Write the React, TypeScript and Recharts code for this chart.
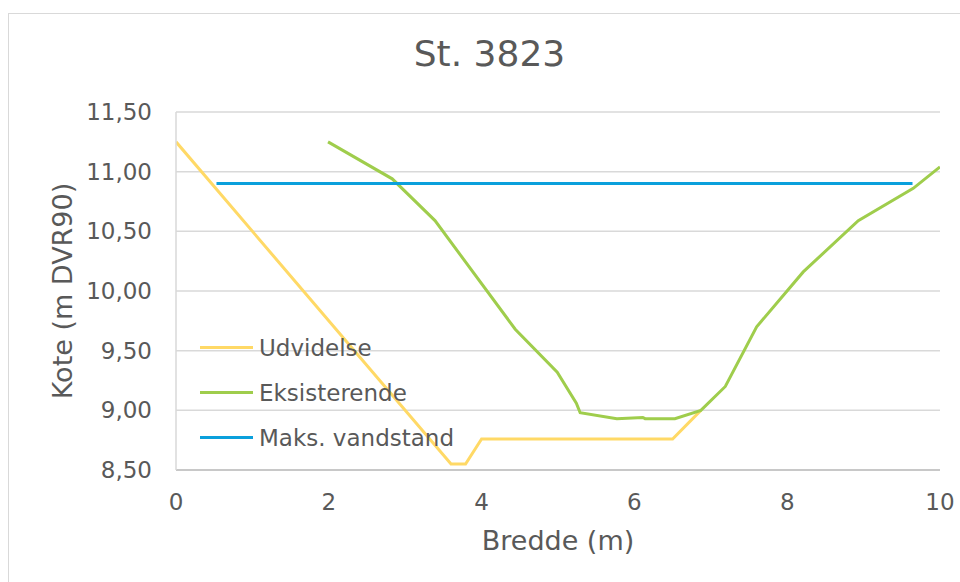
import React from "react";
import { LineChart, Line, XAxis, YAxis, CartesianGrid } from "recharts";

const title = "St. 3823";

const udvidelseX = [0, 3.6, 3.79, 4.0, 6.5, 6.87];
const udvidelseY = [11.25, 8.55, 8.55, 8.76, 8.76, 9.0];

const eksisterendeX = [1.99, 2.83, 3.39, 4.44, 4.99, 5.24, 5.29, 5.77, 6.11, 6.14, 6.53, 6.87, 7.19, 7.6, 8.21, 8.93, 9.65, 10.0];
const eksisterendeY = [11.25, 10.94, 10.59, 9.68, 9.32, 9.06, 8.98, 8.93, 8.94, 8.93, 8.93, 9.0, 9.2, 9.7, 10.16, 10.59, 10.86, 11.04];

const maksX = [0.53, 9.64];
const maksY = [10.9, 10.9];

const xTicks = [0, 2, 4, 6, 8, 10];
const yTicks = [8.5, 9, 9.5, 10, 10.5, 11, 11.5];

const zip = (xs: number[], ys: number[]) => xs.map((x, i) => ({ x, y: ys[i] }));

const series = [
  { name: "Udvidelse", color: "#ffd966", data: zip(udvidelseX, udvidelseY) },
  { name: "Eksisterende", color: "#9fcd4c", data: zip(eksisterendeX, eksisterendeY) },
  { name: "Maks. vandstand", color: "#0aa0dc", data: zip(maksX, maksY) },
];

const FONT = "'DejaVu Sans', Verdana, sans-serif";
const TEXT = "#595959";

function LegendBox() {
  return (
    <div style={{ fontFamily: FONT, fontSize: 23, color: TEXT }}>
      {series.map(s => (
        <div key={s.name} style={{ display: "flex", alignItems: "center", height: 45 }}>
          <div style={{ width: 53, height: 3, background: s.color, marginRight: 6 }} />
          <span>{s.name}</span>
        </div>
      ))}
    </div>
  );
}

function YLabel({ viewBox }: any) {
  const cx = viewBox.x + 62;
  const cy = viewBox.y + viewBox.height / 2;
  return (
    <text x={cx} y={cy} transform={`rotate(-90 ${cx} ${cy})`} textAnchor="middle" dominantBaseline="central"
      fontFamily={FONT} fontSize={27} fill={TEXT}>
      Kote (m DVR90)
    </text>
  );
}

export default function App() {
  return (
    <div style={{ position: "absolute", left: 0, top: 0, width: 960, height: 582, background: "#fff", overflow: "hidden" }}>
      <div style={{ position: "absolute", left: 8, top: 13, width: 980, height: 600, border: "1.5px solid #d9d9d9" }} />
      <div style={{ position: "absolute", left: 0, width: 979, top: 33, textAlign: "center", fontFamily: FONT, fontSize: 36, color: TEXT }}>
        {title}
      </div>
      <div style={{ position: "absolute", left: 0, top: 0 }}>
        <LineChart width={960} height={582} margin={{ top: 112, right: 20, bottom: 0, left: 0 }}>
          <CartesianGrid vertical={false} stroke="#d9d9d9" strokeWidth={1.5} />
          <XAxis
            dataKey="x"
            type="number"
            domain={[0, 10]}
            ticks={xTicks}
            allowDataOverflow
            height={112}
            tickSize={0}
            tickMargin={24}
            axisLine={{ stroke: "#bfbfbf", strokeWidth: 1.5 }}
            tick={{ fontFamily: FONT, fontSize: 23, fill: TEXT }}
            label={{ value: "Bredde (m)", position: "insideBottom", offset: 32, fontFamily: FONT, fontSize: 27, fill: TEXT }}
          />
          <YAxis
            dataKey="y"
            type="number"
            domain={[8.5, 11.5]}
            ticks={yTicks}
            allowDataOverflow
            width={176}
            tickSize={0}
            tickMargin={24}
            axisLine={{ stroke: "#d9d9d9", strokeWidth: 1.5 }}
            tick={{ fontFamily: FONT, fontSize: 23, fill: TEXT }}
            tickFormatter={(v: number) => v.toFixed(2).replace(".", ",")}
            label={<YLabel />}
          />
          {series.map(s => (
            <Line
              key={s.name}
              data={s.data}
              dataKey="y"
              name={s.name}
              type="linear"
              stroke={s.color}
              strokeWidth={3}
              dot={false}
              activeDot={false}
              isAnimationActive={false}
            />
          ))}
        </LineChart>
      </div>
      <div style={{ position: "absolute", left: 200, top: 325 }}>
        <LegendBox />
      </div>
    </div>
  );
}
